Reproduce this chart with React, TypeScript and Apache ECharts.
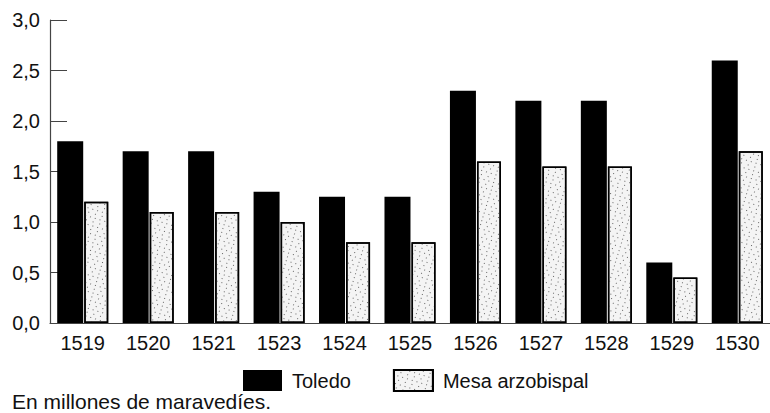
import React, { useEffect, useRef } from "react";
import * as echarts from "echarts";

const categories = ["1519", "1520", "1521", "1523", "1524", "1525", "1526", "1527", "1528", "1529", "1530"];
const toledo = [1.8, 1.7, 1.7, 1.3, 1.25, 1.25, 2.3, 2.2, 2.2, 0.6, 2.6];
const mesa = [1.2, 1.1, 1.1, 1.0, 0.8, 0.8, 1.6, 1.55, 1.55, 0.45, 1.7];
const seriesNames = ["Toledo", "Mesa arzobispal"];
const footnote = "En millones de maravedíes.";

const FONT = "'Liberation Sans', Arial, sans-serif";

export default function App() {
  const ref = useRef<HTMLDivElement>(null);
  useEffect(() => {
    if (!ref.current) return;
    const chart = echarts.init(ref.current, undefined, { renderer: "svg" });
    const decal = {
      symbol: "rect",
      symbolSize: 1,
      color: "#666",
      dashArrayX: [[1, 4], [1, 6]],
      dashArrayY: [1, 3],
      rotation: 0.3,
    };
    chart.setOption({
      animation: false,
      textStyle: { fontFamily: FONT },
      grid: { left: 50, right: 0, top: 20, bottom: 90, containLabel: false },
      legend: {
        left: 238,
        top: 364,
        icon: "rect",
        itemWidth: 39,
        itemHeight: 21,
        itemGap: 42,
        textStyle: { fontSize: 20, color: "#111", fontFamily: FONT, padding: [0, 0, 0, 5] },
        data: seriesNames,
      },
      xAxis: {
        type: "category",
        data: categories,
        axisLine: { lineStyle: { color: "#444", width: 1.2 } },
        axisTick: { inside: true, length: 7, lineStyle: { color: "#444" } },
        axisLabel: { fontSize: 20, color: "#111", margin: 10, fontFamily: FONT },
      },
      yAxis: {
        type: "value",
        min: 0,
        max: 3,
        interval: 0.5,
        splitLine: { show: false },
        axisLine: { show: true, lineStyle: { color: "#444", width: 1.2 } },
        axisTick: { show: true, inside: true, length: 17, lineStyle: { color: "#444" } },
        axisLabel: {
          fontSize: 20,
          color: "#111",
          margin: 10,
          fontFamily: FONT,
          formatter: (v: number) => v.toFixed(1).replace(".", ","),
        },
      },
      series: [
        {
          name: seriesNames[0],
          type: "bar",
          data: toledo,
          barWidth: 26,
          barGap: "4%",
          itemStyle: { color: "#000" },
        },
        {
          name: seriesNames[1],
          type: "bar",
          data: mesa,
          barWidth: 24,
          itemStyle: {
            color: "#f4f4f4",
            borderColor: "#000",
            borderWidth: 1.5,
            decal,
          },
        },
      ],
      graphic: [
        {
          type: "text",
          left: 12,
          top: 390,
          style: { text: footnote, fontSize: 21, lineHeight: 22, fill: "#111", fontFamily: FONT },
        },
      ],
    });
    return () => chart.dispose();
  }, []);
  return <div ref={ref} style={{ width: 770, height: 413, position: "absolute", left: 0, top: 0 }} />;
}
